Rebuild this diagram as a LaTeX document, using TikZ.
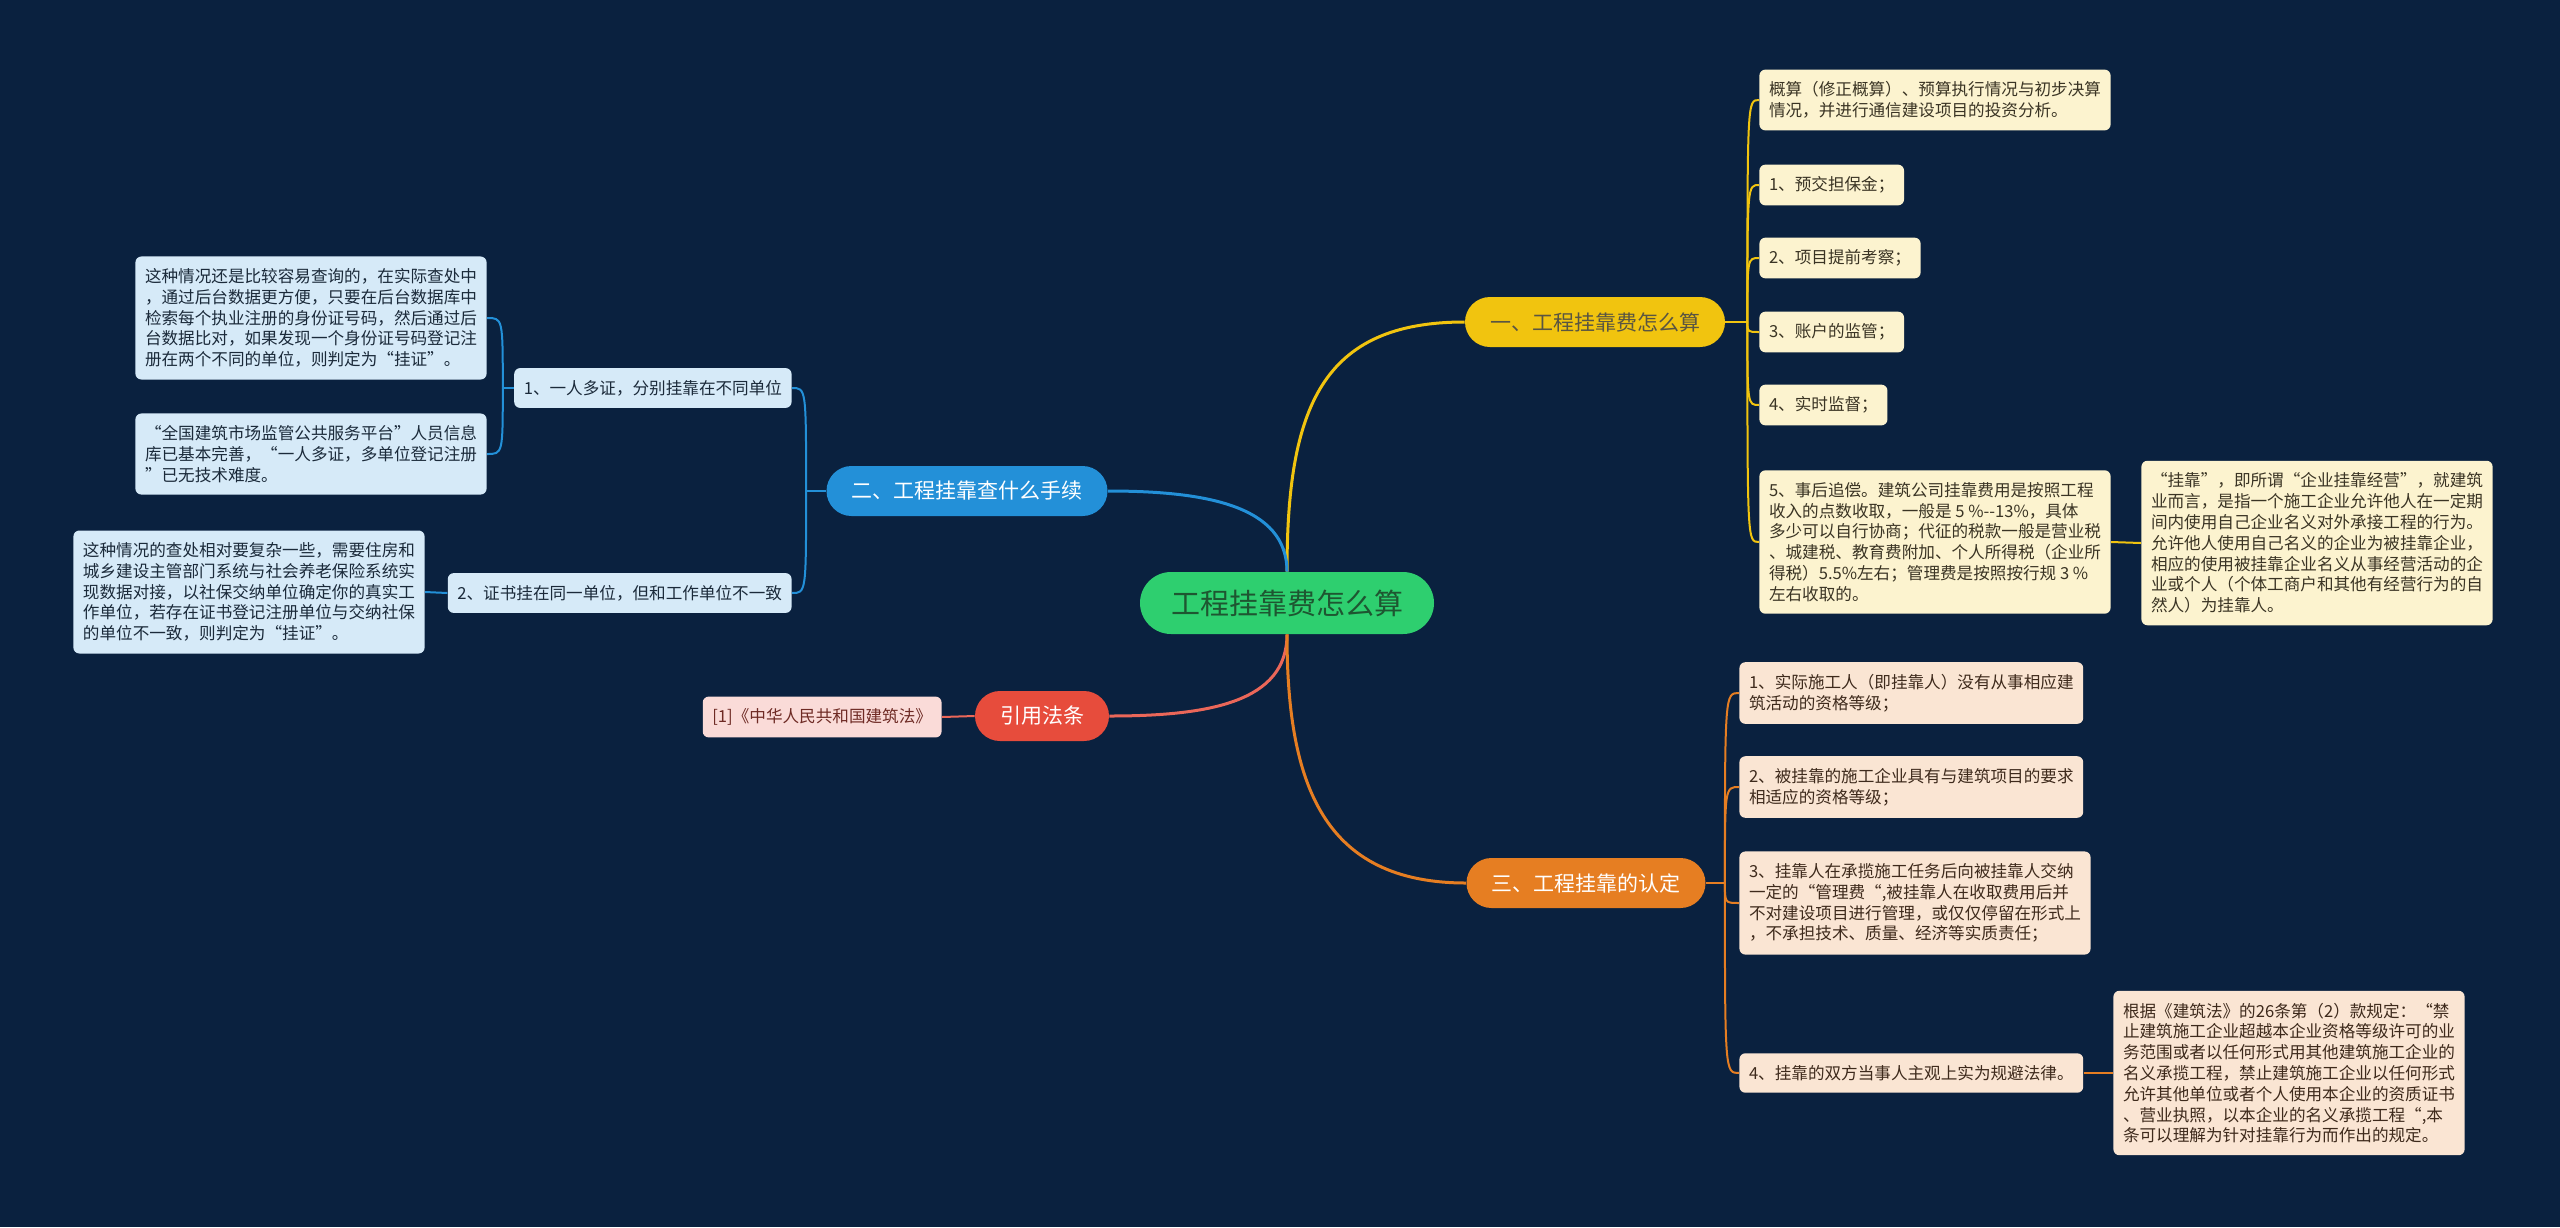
\documentclass[tikz,border=0pt]{standalone}
\usepackage{fontspec}
\setmainfont{Noto Sans CJK SC}
\definecolor{bgnavy}{HTML}{0A213F}
\definecolor{rootgreen}{HTML}{2ECF6F}
\definecolor{roottext}{HTML}{1E5631}
\definecolor{ybranch}{HTML}{F1C40F}
\definecolor{yleaf}{HTML}{FCF3CF}
\definecolor{ytext}{HTML}{3A3424}
\definecolor{bbranch}{HTML}{2390D8}
\definecolor{bleaf}{HTML}{D6EAF8}
\definecolor{btext}{HTML}{1B2A3A}
\definecolor{obranch}{HTML}{E67E22}
\definecolor{oleaf}{HTML}{FAE5D3}
\definecolor{otext}{HTML}{3E2A1C}
\definecolor{rbranch}{HTML}{E74C3C}
\definecolor{rleaf}{HTML}{FADBD8}
\definecolor{rtext}{HTML}{6E2A24}

\begin{document}
\begin{tikzpicture}[x=0.5pt, y=-0.5pt]
  \tikzset{
    rootbox/.style={fill=rootgreen, text=roottext, rounded corners=15.5pt,
      minimum height=31pt, inner xsep=15.5pt, font=\fontsize{14.5}{17}\selectfont},
    branch/.style={rounded corners=12.5pt, minimum height=25pt, inner xsep=12.5pt,
      font=\fontsize{10.5}{12}\selectfont},
    leaf/.style={rounded corners=3pt, align=left, inner xsep=4.8pt, inner ysep=6pt,
      font=\fontsize{8.3}{10.4}\selectfont},
    yleafbox/.style={leaf, fill=yleaf, text=ytext, anchor=west},
    bleafbox/.style={leaf, fill=bleaf, text=btext, anchor=east},
    oleafbox/.style={leaf, fill=oleaf, text=otext, anchor=west},
    rleafbox/.style={leaf, fill=rleaf, text=rtext, anchor=east},
    ylink/.style={draw=ybranch, line width=1pt},
    blink/.style={draw=bbranch, line width=1pt},
    olink/.style={draw=obranch, line width=1pt},
    rlink/.style={draw=rbranch!85!white, line width=1pt}
  }
  \fill[bgnavy] (0,0) rectangle (2560,1227);

  \node[rootbox] (root) at (1287,603) {工程挂靠费怎么算};
  \node[branch, fill=ybranch, text=black!75!yellow] (calc) at (1595,322) {一、工程挂靠费怎么算};
  \node[branch, fill=bbranch, text=white] (proc) at (967,491) {二、工程挂靠查什么手续};
  \node[branch, fill=obranch, text=white] (ident) at (1586,883) {三、工程挂靠的认定};
  \node[branch, fill=rbranch, text=white] (law) at (1042,716) {引用法条};

  \node[yleafbox] (c0) at (1759,100) {概算（修正概算）、预算执行情况与初步决算\\情况，并进行通信建设项目的投资分析。};
  \node[yleafbox] (c1) at (1759,185) {1、预交担保金；};
  \node[yleafbox] (c2) at (1759,258) {2、项目提前考察；};
  \node[yleafbox] (c3) at (1759,332) {3、账户的监管；};
  \node[yleafbox] (c4) at (1759,405) {4、实时监督；};
  \node[yleafbox] (c5) at (1759,542) {5、事后追偿。建筑公司挂靠费用是按照工程\\收入的点数收取，一般是 5 \%-{}-13\%，具体\\多少可以自行协商；代征的税款一般是营业税\\、城建税、教育费附加、个人所得税（企业所\\得税）5.5\%左右；管理费是按照按行规 3 \%\\左右收取的。};
  \node[yleafbox] (cnote) at (2141,543) {“挂靠”，即所谓“企业挂靠经营”，就建筑\\业而言，是指一个施工企业允许他人在一定期\\间内使用自己企业名义对外承接工程的行为。\\允许他人使用自己名义的企业为被挂靠企业，\\相应的使用被挂靠企业名义从事经营活动的企\\业或个人（个体工商户和其他有经营行为的自\\然人）为挂靠人。};

  \node[oleafbox] (i1) at (1739,693) {1、实际施工人（即挂靠人）没有从事相应建\\筑活动的资格等级；};
  \node[oleafbox] (i2) at (1739,787) {2、被挂靠的施工企业具有与建筑项目的要求\\相适应的资格等级；};
  \node[oleafbox] (i3) at (1739,903) {3、挂靠人在承揽施工任务后向被挂靠人交纳\\一定的“管理费“,被挂靠人在收取费用后并\\不对建设项目进行管理，或仅仅停留在形式上\\，不承担技术、质量、经济等实质责任；};
  \node[oleafbox] (i4) at (1739,1073) {4、挂靠的双方当事人主观上实为规避法律。};
  \node[oleafbox] (inote) at (2113,1073) {根据《建筑法》的26条第（2）款规定：“禁\\止建筑施工企业超越本企业资格等级许可的业\\务范围或者以任何形式用其他建筑施工企业的\\名义承揽工程，禁止建筑施工企业以任何形式\\允许其他单位或者个人使用本企业的资质证书\\、营业执照，以本企业的名义承揽工程“,本\\条可以理解为针对挂靠行为而作出的规定。};

  \node[bleafbox] (p1) at (792,388) {1、一人多证，分别挂靠在不同单位};
  \node[bleafbox] (p1a) at (487,318) {这种情况还是比较容易查询的，在实际查处中\\，通过后台数据更方便，只要在后台数据库中\\检索每个执业注册的身份证号码，然后通过后\\台数据比对，如果发现一个身份证号码登记注\\册在两个不同的单位，则判定为“挂证”。};
  \node[bleafbox] (p1b) at (487,454) {“全国建筑市场监管公共服务平台”人员信息\\库已基本完善，“一人多证，多单位登记注册\\”已无技术难度。};
  \node[bleafbox] (p2) at (792,593) {2、证书挂在同一单位，但和工作单位不一致};
  \node[bleafbox] (p2a) at (425,592) {这种情况的查处相对要复杂一些，需要住房和\\城乡建设主管部门系统与社会养老保险系统实\\现数据对接，以社保交纳单位确定你的真实工\\作单位，若存在证书登记注册单位与交纳社保\\的单位不一致，则判定为“挂证”。};

  \node[rleafbox] (l1) at (942,717) {[1]《中华人民共和国建筑法》};

  \draw[ylink, line width=1.5pt] (root.north) .. controls +(0,-164) and +(-143,0) .. (calc.west);
  \draw[blink, line width=1.5pt] (root.north) .. controls +(0,-66) and +(98,0) .. (proc.east);
  \draw[rlink, line width=1.5pt] (root.south) .. controls +(0,68) and +(99,0) .. (law.east);
  \draw[olink, line width=1.5pt] (root.south) .. controls +(0,150) and +(-143,0) .. (ident.west);

  \draw[ylink] (calc.east) -- ++(22,0) coordinate (ytrunk);
  \foreach \n in {c0,c1,c2,c3,c4,c5}
    \draw[ylink] (ytrunk) .. controls (ytrunk |- \n.west) .. (\n.west);
  \draw[ylink] (c5.east) -- (cnote.west);

  \draw[olink] (ident.east) -- ++(19,0) coordinate (otrunk);
  \foreach \n in {i1,i2,i3,i4}
    \draw[olink] (otrunk) .. controls (otrunk |- \n.west) .. (\n.west);
  \draw[olink] (i4.east) -- (inote.west);

  \draw[blink] (proc.west) -- ++(-20,0) coordinate (btrunk);
  \foreach \n in {p1,p2}
    \draw[blink] (btrunk) .. controls (btrunk |- \n.east) .. (\n.east);
  \draw[blink] (p1.west) -- ++(-11,0) coordinate (ptrunk);
  \foreach \n in {p1a,p1b}
    \draw[blink] (ptrunk) .. controls (ptrunk |- \n.east) .. (\n.east);
  \draw[blink] (p2.west) -- (p2a.east);

  \draw[rlink] (law.west) -- (l1.east);
\end{tikzpicture}
\end{document}
